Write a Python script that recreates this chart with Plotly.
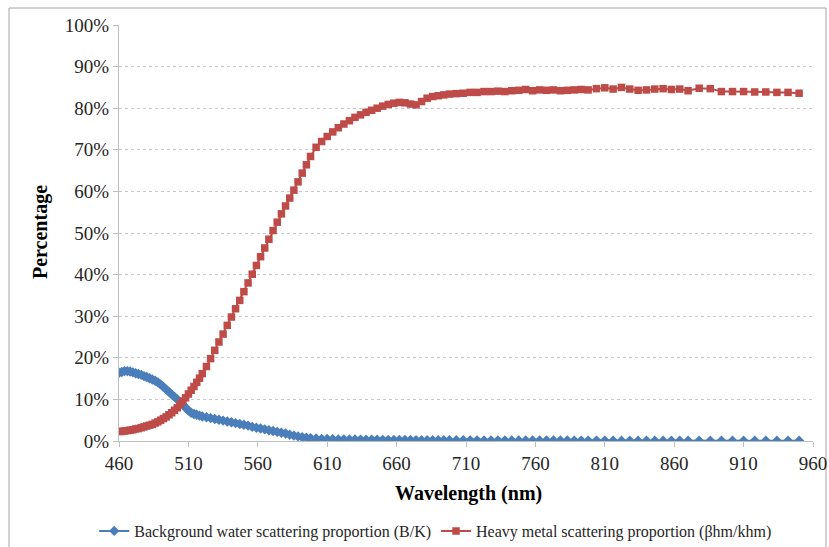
import plotly.graph_objects as go

# Wavelength sampling (nm)
wavelength = [
    460, 462, 464, 466, 468, 470, 472, 474, 476, 478, 480, 482, 484, 486, 488, 490,
    492, 494, 496, 498, 500, 502, 504, 506, 508, 510, 512, 514, 516, 518, 520,
    523, 526, 529, 532, 535, 538, 541, 544, 547, 550, 553, 556, 559, 562, 565, 568,
    571, 574, 577, 580, 583, 586, 589, 592, 595, 598,
    602, 606, 610, 614, 618, 622, 626, 630, 634, 638, 642, 646, 650, 654, 658, 662,
    666, 670, 674, 678, 682, 686, 690, 694, 698,
    703, 708, 713, 718, 723, 728, 733, 738, 743, 748, 753, 758, 763, 768, 773, 778,
    783, 788, 793, 798,
    804, 810, 816, 822, 828, 834, 840, 846, 852, 858, 864, 870,
    878, 886, 894, 902, 910, 918, 926, 934, 942, 950,
]

# Background water scattering proportion B/K (%)
background_water = [
    16.4, 16.6, 16.8, 16.8, 16.7, 16.5, 16.3, 16.1, 15.9, 15.6, 15.4, 15.1, 14.8, 14.5, 14.1, 13.6,
    13.0, 12.4, 11.8, 11.2, 10.6, 10.0, 9.4, 8.7, 8.0, 7.3, 6.8, 6.5, 6.3, 6.1, 5.9,
    5.7, 5.5, 5.3, 5.1, 4.9, 4.7, 4.5, 4.3, 4.1, 3.9, 3.7, 3.4, 3.2, 3.0, 2.8, 2.6,
    2.4, 2.2, 2.0, 1.8, 1.5, 1.3, 1.1, 0.9, 0.8, 0.7,
    0.6, 0.5, 0.5, 0.45, 0.4, 0.4, 0.38, 0.36, 0.34, 0.32, 0.3, 0.3, 0.28, 0.27, 0.26, 0.25,
    0.24, 0.23, 0.22, 0.21, 0.2, 0.2, 0.19, 0.18, 0.18,
    0.17, 0.17, 0.16, 0.16, 0.15, 0.15, 0.14, 0.14, 0.13, 0.13, 0.13, 0.12, 0.12, 0.12, 0.11, 0.11,
    0.11, 0.1, 0.1, 0.1,
    0.1, 0.1, 0.09, 0.09, 0.09, 0.09, 0.08, 0.08, 0.08, 0.08, 0.08, 0.07,
    0.07, 0.07, 0.07, 0.06, 0.06, 0.06, 0.06, 0.05, 0.05, 0.05,
]

# Heavy metal scattering proportion βhm/khm (%)
heavy_metal = [
    2.3, 2.3, 2.4, 2.5, 2.6, 2.7, 2.9, 3.0, 3.2, 3.4, 3.6, 3.8, 4.0, 4.3, 4.6, 5.0,
    5.4, 5.8, 6.3, 6.8, 7.4, 8.0, 8.8, 9.6, 10.4, 11.3, 12.2, 13.1, 14.1, 15.1, 16.2,
    17.9, 19.8, 21.8, 23.8, 25.7, 27.8, 29.8, 31.8, 33.8, 35.9, 38.0, 40.1, 42.2, 44.3, 46.4, 48.5,
    50.6, 52.6, 54.6, 56.5, 58.4, 60.3, 62.3, 64.4, 66.4, 68.4,
    70.6, 72.0, 73.2, 74.3, 75.3, 76.2, 77.0, 77.8, 78.4, 79.0, 79.5, 80.0, 80.5, 80.9, 81.2, 81.4,
    81.3, 81.0, 80.8, 81.6, 82.4, 82.8, 83.0, 83.2, 83.4,
    83.5, 83.6, 83.8, 83.8, 84.0, 84.0, 84.1, 84.0, 84.2, 84.3, 84.5, 84.2, 84.4, 84.3, 84.4, 84.2,
    84.3, 84.4, 84.5, 84.4,
    84.7, 84.9, 84.6, 85.0, 84.6, 84.3, 84.4, 84.6, 84.7, 84.5, 84.6, 84.2,
    84.8, 84.7, 84.0, 84.0, 84.0, 83.9, 83.9, 83.8, 83.8, 83.6,
]

x_ticks = [460, 510, 560, 610, 660, 710, 760, 810, 860, 910, 960]
y_ticks = [0, 10, 20, 30, 40, 50, 60, 70, 80, 90, 100]

SERIF = "Liberation Serif"
BLUE = "#4A7EBB"
RED = "#BE4B48"
AXIS_GRAY = "#BFBFBF"

fig = go.Figure()
fig.add_trace(go.Scatter(
    x=wavelength, y=background_water, mode="lines+markers",
    name="Background water scattering proportion (B/K)",
    line=dict(color=BLUE, width=2),
    marker=dict(symbol="diamond", size=8, color=BLUE),
))
fig.add_trace(go.Scatter(
    x=wavelength, y=heavy_metal, mode="lines+markers",
    name="Heavy metal scattering proportion (βhm/khm)",
    line=dict(color=RED, width=2),
    marker=dict(symbol="square", size=7.5, color=RED),
))

# plot area geometry in pixels
L, R, T, B = 119, 16, 25, 106
W, H = 829, 547
pw, ph = W - L - R, H - T - B


def px_x(p):
    return (p - L) / pw


def px_y(p):
    return (H - B - p) / ph


fig.update_layout(
    width=W, height=H,
    margin=dict(l=L, r=R, t=T, b=B, autoexpand=False),
    paper_bgcolor="white", plot_bgcolor="white",
    font=dict(family=SERIF, color="#262626"),
    showlegend=True,
    legend=dict(
        orientation="h", xref="container", yref="container",
        x=0.525, xanchor="center", y=(H - 531) / H, yanchor="middle",
        font=dict(family=SERIF, size=16, color="#262626"),
        tracegroupgap=0, bgcolor="rgba(0,0,0,0)",
    ),
    xaxis=dict(
        range=[460, 960], tickvals=x_ticks, ticktext=[str(v) for v in x_ticks],
        showline=True, linecolor=AXIS_GRAY, linewidth=1,
        ticks="outside", ticklen=5, tickcolor=AXIS_GRAY,
        showgrid=False, zeroline=False,
        tickfont=dict(family=SERIF, size=19, color="#262626"),
    ),
    yaxis=dict(
        range=[0, 100], tickvals=y_ticks, ticktext=[f"{v}%" for v in y_ticks],
        showline=True, linecolor=AXIS_GRAY, linewidth=1,
        ticks="outside", ticklen=5, tickcolor=AXIS_GRAY,
        showgrid=True, gridcolor="#C9C9C9", griddash="dot", gridwidth=1,
        zeroline=False,
        tickfont=dict(family=SERIF, size=19, color="#262626"),
    ),
    annotations=[
        dict(text="<b>Wavelength (nm)</b>", xref="paper", yref="paper",
             x=px_x(468), y=px_y(493), xanchor="center", yanchor="middle",
             showarrow=False, font=dict(family=SERIF, size=20, color="#000000")),
        dict(text="<b>Percentage</b>", xref="paper", yref="paper",
             x=px_x(40), y=px_y(232), xanchor="center", yanchor="middle",
             textangle=-90, showarrow=False,
             font=dict(family=SERIF, size=20, color="#000000")),
    ],
    shapes=[
        dict(type="rect", xref="paper", yref="paper",
             x0=px_x(9), x1=px_x(826), y0=px_y(575), y1=px_y(8),
             line=dict(color="#A6A6A6", width=1), layer="below"),
    ],
)

fig.write_html("out.html")
